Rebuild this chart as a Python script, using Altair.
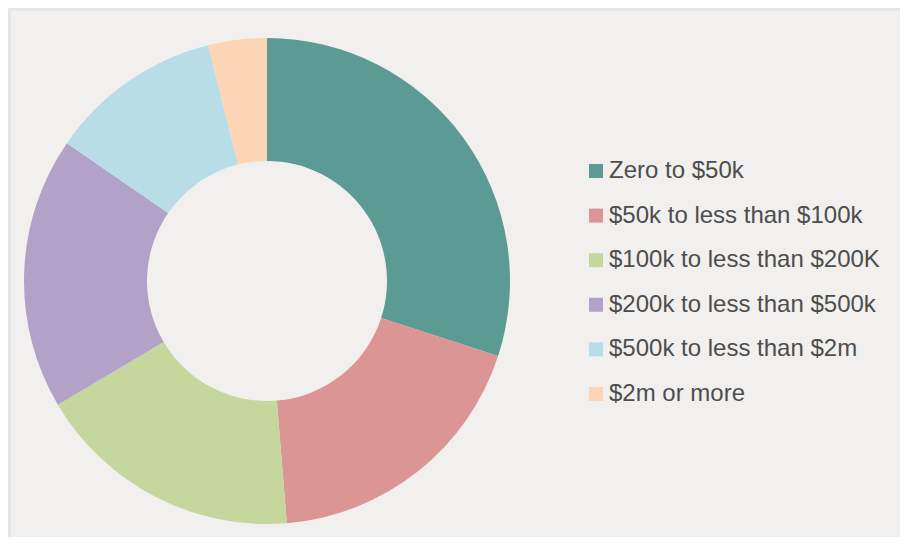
import altair as alt
import pandas as pd

categories = [
    "Zero to $50k",
    "$50k to less than $100k",
    "$100k to less than $200K",
    "$200k to less than $500k",
    "$500k to less than $2m",
    "$2m or more",
]
shares = [30.0, 18.7, 17.8, 18.1, 11.5, 3.9]
colors = ["#5c9a94", "#db9594", "#c5d79d", "#b3a2c8", "#b8dde7", "#fcd5b6"]

df = pd.DataFrame({"category": categories, "share": shares, "idx": list(range(len(categories)))})

donut = (
    alt.Chart(df)
    .mark_arc(innerRadius=120, outerRadius=243, stroke=None)
    .encode(
        theta=alt.Theta("share:Q", stack=True),
        order=alt.Order("idx:Q"),
        color=alt.Color(
            "category:N",
            sort=categories,
            scale=alt.Scale(domain=categories, range=colors),
            legend=alt.Legend(
                title=None,
                orient="none",
                legendX=573,
                legendY=148,
                symbolType="square",
                symbolSize=196,
                symbolStrokeWidth=0,
                labelFont="Liberation Sans",
                labelFontSize=24,
                labelColor="#4d4d4d",
                labelOffset=1,
                rowPadding=20.6,
                labelLimit=400,
            ),
        ),
        x=alt.value(256),
        y=alt.value(270),
    )
)

frame = pd.DataFrame({"k": [0]})
border_left = alt.Chart(frame).mark_rule(color="#e8e6e2", strokeWidth=3).encode(
    x=alt.value(-1.5), y=alt.value(-3), y2=alt.value(540)
)
border_top = alt.Chart(frame).mark_rule(color="#e8e6e2", strokeWidth=3).encode(
    y=alt.value(-1.5), x=alt.value(-3), x2=alt.value(900)
)

chart = (
    alt.layer(donut, border_left, border_top)
    .properties(
        width=889,
        height=526,
        autosize=alt.AutoSizeParams(type="none"),
        padding={"left": 3, "top": 3, "right": 0, "bottom": 0},
        background="#f1f0ee",
    )
    .configure_view(fill="#f1f0ee", stroke=None)
)

chart.save("out.html", embed_options={"renderer": "svg", "actions": False})
